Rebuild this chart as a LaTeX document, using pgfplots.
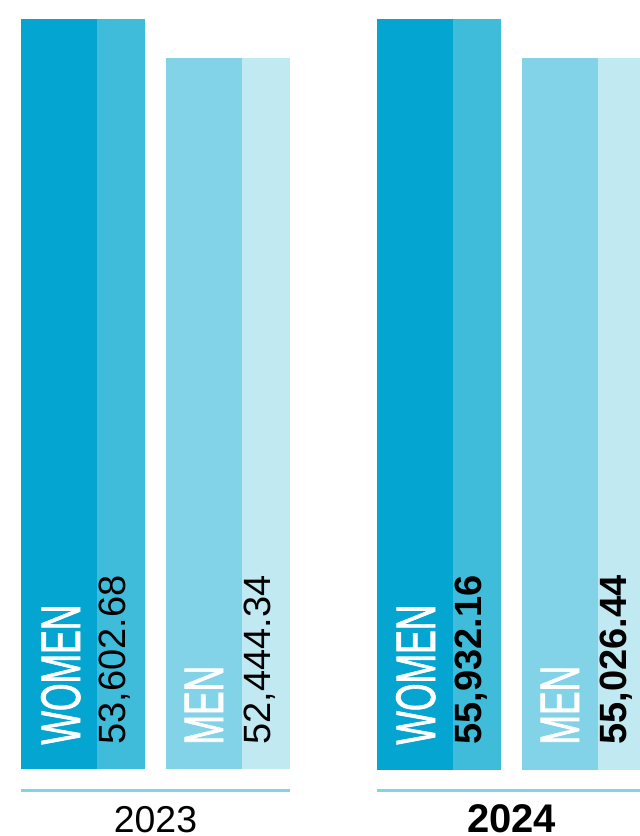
\documentclass[border=0pt]{standalone}
\usepackage{pgfplots}
\pgfplotsset{compat=1.18}
\usepackage{fontspec}
\setmainfont{Liberation Sans}
\newfontfamily\condfont[FakeStretch=0.636, FakeBold=1.2]{Liberation Sans}
\definecolor{wdark}{HTML}{05A5D1}
\definecolor{wlight}{HTML}{40BCDB}
\definecolor{mdark}{HTML}{82D3E7}
\definecolor{mlight}{HTML}{C0E9F2}
\definecolor{lineblue}{HTML}{82D3E7}

\pgfplotsset{barpanel/.style={
  at={(0pt,33.25pt)}, anchor=south west, scale only axis,
  width=320pt, height=375.25pt,
  xmin=0, xmax=640,
  axis line style={draw=none}, tick style={draw=none},
  major tick length=0pt,
  ytick=\empty,
  ybar,
  xticklabel style={anchor=base, yshift=-31.25pt, inner sep=0pt},
},
seg/.style={draw=none, fill=#1, bar shift=0pt},
}
\tikzset{
grp/.style={rotate=90, anchor=base west, inner sep=0pt, text=white,
  font=\condfont\fontsize{27.9}{28}\selectfont},
val/.style={rotate=90, anchor=base west, inner sep=0pt, text=black,
  font=\fontsize{19}{19}\selectfont},
}

\begin{document}
\begin{tikzpicture}
% ---- 2023 ----
\begin{axis}[barpanel, ymin=31312, ymax=53602.68,
  xtick={155.5}, xticklabels={2023},
  xticklabel style={font=\fontsize{18.7}{19}\selectfont}]
\addplot[seg=wdark, bar width=76] coordinates {(59,53602.68)};
\addplot[seg=wlight, bar width=48] coordinates {(121,53602.68)};
\addplot[seg=mdark, bar width=76] coordinates {(204,52444.34)};
\addplot[seg=mlight, bar width=48] coordinates {(266,52444.34)};
\node[grp] at (axis cs:80,32039.7) {WOMEN};
\node[val] at (axis cs:125.5,32039.7) {53,602.68};
\node[grp] at (axis cs:223,32039.7) {MEN};
\node[val] at (axis cs:270.5,32039.7) {52,444.34};
\end{axis}
% ---- 2024 ----
\begin{axis}[barpanel, ymin=38503, ymax=55932.16,
  xtick={511.5}, xticklabels={2024},
  xticklabel style={font=\bfseries\fontsize{20}{20}\selectfont}]
\addplot[seg=wdark, bar width=76] coordinates {(415,55932.16)};
\addplot[seg=wlight, bar width=48] coordinates {(477,55932.16)};
\addplot[seg=mdark, bar width=76] coordinates {(560,55026.44)};
\addplot[seg=mlight, bar width=48] coordinates {(622,55026.44)};
\node[grp] at (axis cs:435,39072) {WOMEN};
\node[val, font=\bfseries\fontsize{19}{19}\selectfont] at (axis cs:481.5,39072) {55,932.16};
\node[grp] at (axis cs:579,39072) {MEN};
\node[val, font=\bfseries\fontsize{19}{19}\selectfont] at (axis cs:626.5,39072) {55,026.44};
\end{axis}
\draw[lineblue, line width=1.5pt] (10.5pt,22.5pt) -- (145pt,22.5pt);
\draw[lineblue, line width=1.5pt] (188.5pt,22.5pt) -- (323pt,22.5pt);
\pgfresetboundingbox
\useasboundingbox (0,0) rectangle (320pt,418pt);
\end{tikzpicture}
\end{document}
